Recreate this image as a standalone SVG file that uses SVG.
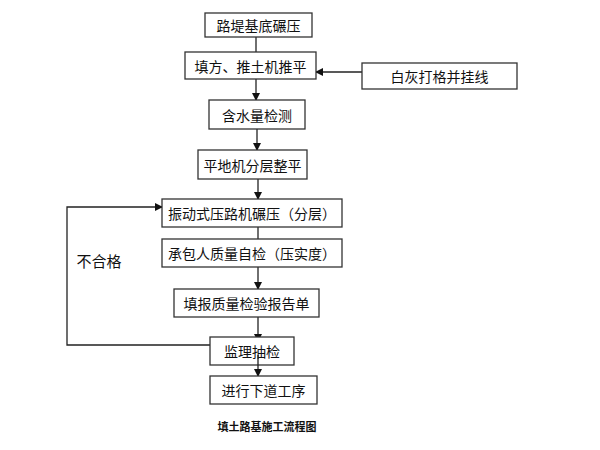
<svg xmlns="http://www.w3.org/2000/svg" width="600" height="450" viewBox="0 0 600 450">
<defs>
<marker id="ah" markerWidth="8" markerHeight="8" refX="7" refY="4" orient="auto" markerUnits="userSpaceOnUse">
<path d="M0,0 L8,4 L0,8 z" fill="#111"/>
</marker>
<style>
.box{fill:#fff;stroke:#333;stroke-width:1.3}
.t{font-family:"Noto Sans CJK SC","Noto Sans",sans-serif;font-size:14px;fill:#111;text-anchor:middle;dominant-baseline:central}
.ln{stroke:#222;stroke-width:1.3;fill:none}
.cap{font-family:"Noto Sans CJK SC","Noto Sans",sans-serif;font-size:11px;font-weight:bold;fill:#111;text-anchor:middle}
</style>
</defs>
<rect width="600" height="450" fill="#fff"/>
<g id="connectors">
<line class="ln" x1="256" y1="37" x2="256" y2="52"/>
<line class="ln" x1="256" y1="79" x2="256" y2="100" marker-end="url(#ah)"/>
<line class="ln" x1="362" y1="72" x2="316" y2="72" marker-end="url(#ah)"/>
<line class="ln" x1="257" y1="129" x2="257" y2="150" marker-end="url(#ah)"/>
<line class="ln" x1="258" y1="179" x2="258" y2="199" marker-end="url(#ah)"/>
<line class="ln" x1="258" y1="227" x2="258" y2="239"/>
<line class="ln" x1="258" y1="267" x2="258" y2="289" marker-end="url(#ah)"/>
<line class="ln" x1="258" y1="317" x2="258" y2="341" marker-end="url(#ah)"/>
<polyline class="ln" points="210,345 67,345 67,207 162,207" marker-end="url(#ah)"/>
</g>
<g id="n1"><rect class="box" x="205" y="13" width="107" height="24"/><text class="t" x="258.5" y="25">路堤基底碾压</text></g>
<g id="n2"><rect class="box" x="185" y="52" width="131" height="27"/><text class="t" x="250.5" y="65.5">填方、推土机推平</text></g>
<g id="n10"><rect class="box" x="362" y="63" width="155" height="26"/><text class="t" x="439.5" y="76">白灰打格并挂线</text></g>
<g id="n3"><rect class="box" x="209" y="100" width="96" height="29"/><text class="t" x="257" y="114.5">含水量检测</text></g>
<g id="n4"><rect class="box" x="198" y="150" width="109" height="29"/><text class="t" x="252.5" y="164.5">平地机分层整平</text></g>
<g id="n5"><rect class="box" x="162" y="199" width="180" height="28"/><text class="t" x="252" y="213">振动式压路机碾压（分层）</text></g>
<g id="n6"><rect class="box" x="162" y="239" width="180" height="28"/><text class="t" x="252" y="253">承包人质量自检（压实度）</text></g>
<g id="n7"><rect class="box" x="174" y="289" width="145" height="28"/><text class="t" x="246.5" y="303">填报质量检验报告单</text></g>
<g id="n8"><rect class="box" x="210" y="337" width="84" height="28"/><text class="t" x="252" y="351">监理抽检</text></g>
<line class="ln" x1="258" y1="355" x2="258" y2="376" marker-end="url(#ah)"/>
<g id="n9"><rect class="box" x="210" y="376" width="107" height="28"/><text class="t" x="263.5" y="390">进行下道工序</text></g>
<g id="label"><text class="t" x="99" y="260" style="font-size:15px">不合格</text></g>
<text class="cap" x="267" y="431">填土路基施工流程图</text>
</svg>
